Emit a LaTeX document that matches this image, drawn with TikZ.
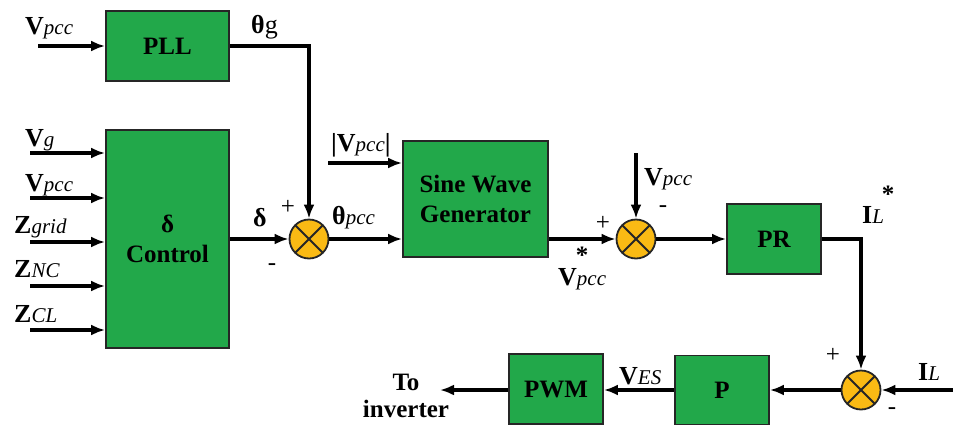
\documentclass[tikz,border=0pt]{standalone}
\usepackage{fontspec}
\setmainfont{Liberation Serif}
\usetikzlibrary{arrows.meta}
\definecolor{boxgreen}{RGB}{34,168,74}
\definecolor{sumorange}{RGB}{250,186,20}
\newcommand\subtx[1]{{\fontsize{21}{24}\selectfont\itshape #1}}
\begin{document}
\begin{tikzpicture}[x=1pt,y=-1pt,
  blk/.style={draw=black!85, line width=1.8pt, fill=boxgreen, inner sep=0pt,
    font=\fontsize{25}{30}\selectfont\bfseries, align=center},
  sumnode/.style={circle, draw=black!85, line width=1.8pt, fill=sumorange,
    minimum size=39pt, inner sep=0pt,
    path picture={\draw[line width=1.8pt,black!85]
      (path picture bounding box.north west)--(path picture bounding box.south east)
      (path picture bounding box.north east)--(path picture bounding box.south west);}},
  wire/.style={line width=3.4pt},
  arr/.style={wire,-{Latex[length=14pt,width=11pt]}},
  lbl/.style={font=\fontsize{26}{30}\selectfont, inner sep=0pt, anchor=base west},
  sgn/.style={font=\fontsize{25}{26}\selectfont, inner sep=0pt}]
\useasboundingbox (0,0) rectangle (953,426);

% blocks
\node[blk, minimum width=123pt, minimum height=70pt] (pll) at (167.5,46) {PLL};
\node[blk, minimum width=123pt, minimum height=218pt] (dc) at (167.5,239) {δ\\Control};
\node[blk, minimum width=145pt, minimum height=116pt] (swg) at (475.5,199) {Sine Wave\\Generator};
\node[blk, minimum width=94pt, minimum height=70pt] (pr) at (774,239) {PR};
\node[blk, minimum width=94pt, minimum height=69pt] (p) at (722,390) {P};
\node[blk, minimum width=94pt, minimum height=70pt] (pwm) at (556,389) {PWM};

% summers
\node[sumnode] (s1) at (309,239) {};
\node[sumnode] (s2) at (636,239) {};
\node[sumnode] (s3) at (861,390) {};

% free ends
\coordinate (vin) at (38,46);
\coordinate (in1) at (30,153);
\coordinate (in2) at (30,198);
\coordinate (in3) at (30,242);
\coordinate (in4) at (30,286);
\coordinate (in5) at (30,330);
\coordinate (vmag) at (328,163);
\coordinate (v2in) at (636,153);
\coordinate (ilin) at (953,390);
\coordinate (out) at (440,390);

% connectors
\draw[arr] (vin) -- (vin -| pll.west);
\foreach \c in {in1,in2,in3,in4,in5} \draw[arr] (\c) -- (\c -| dc.west);
\draw[arr] (pll.east) -| (s1.north);
\draw[arr] (dc.east) -- (s1.west);
\draw[arr] (s1.east) -- (s1.east -| swg.west);
\draw[arr] (vmag) -- (vmag -| swg.west);
\draw[arr] (swg.east |- s2.west) -- (s2.west);
\draw[arr] (v2in) -- (s2.north);
\draw[arr] (s2.east) -- (pr.west);
\draw[arr] (pr.east) -| (s3.north);
\draw[arr] (ilin) -- (s3.east);
\draw[arr] (s3.west) -- (p.east);
\draw[arr] (p.west) -- (p.west -| pwm.east);
\draw[arr] (pwm.west |- out) -- (out);

% input labels
\node[lbl] (lv0) at (25,34) {\textbf{V}\subtx{pcc}};
\node[lbl] (lv1) at (25,146) {\textbf{V}\subtx{g}};
\node[lbl] (lv2) at (25,191) {\textbf{V}\subtx{pcc}};
\node[lbl] (lz1) at (14,233) {\textbf{Z}\subtx{grid}};
\node[lbl] (lz2) at (14,277) {\textbf{Z}\subtx{NC}};
\node[lbl] (lz3) at (14,322) {\textbf{Z}\subtx{CL}};

% other labels
\node[lbl] (ltg) at (251,33) {\textbf{θ}g};
\node[lbl] (ld) at (253,226) {\textbf{δ}};
\node[lbl] (ltp) at (332,224) {\textbf{θ}\subtx{pcc}};
\node[lbl] (lvm) at (331,151) {\textbf{|V}\subtx{pcc}\textbf{|}};
\node[lbl] (lvs) at (558,285) {\textbf{V}\subtx{pcc}};
\node[sgn] (st1) at (582,255) {\textbf{*}};
\node[lbl] (lv3) at (644,185) {\textbf{V}\subtx{pcc}};
\node[lbl] (lil) at (862,223) {\textbf{I}\subtx{L}};
\node[sgn] (st2) at (888,194) {\textbf{*}};
\node[lbl] (lil2) at (918,380) {\textbf{I}\subtx{L}};
\node[lbl] (lves) at (619,384) {\textbf{V}\subtx{ES}};
\node[font=\fontsize{25}{27}\selectfont\bfseries, align=center, inner sep=0pt] (lto) at (406,396) {To\\inverter};

% signs
\node[sgn] (p1) at (288,207) {+};
\node[sgn] (m1) at (272,267) {-};
\node[sgn] (p2) at (603,223) {+};
\node[sgn] (m2) at (663,209) {-};
\node[sgn] (p3) at (833,355) {+};
\node[sgn] (m3) at (892,411) {-};
\end{tikzpicture}
\end{document}
